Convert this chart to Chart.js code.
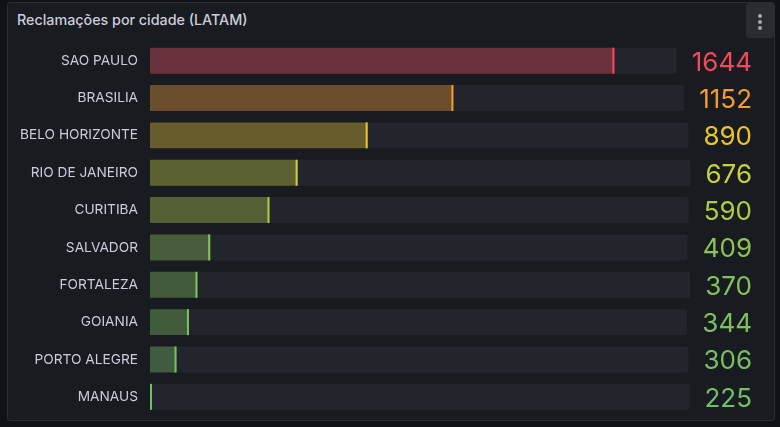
<!DOCTYPE html>
<html>
<head>
<meta charset="utf-8">
<script src="https://cdn.jsdelivr.net/npm/chart.js@4/dist/chart.umd.min.js"></script>
<style>
  html, body { margin: 0; padding: 0; background: #111217; width: 780px; height: 427px; overflow: hidden; }
  #panel { position: absolute; left: 7px; top: 2px; width: 768px; height: 419px; box-sizing: border-box;
           border: 1px solid #2b2e34; border-radius: 3px; background: #181b1f; }
  #title { position: absolute; left: 17px; top: 11px; font-family: Inter, sans-serif; font-weight: 500;
           font-size: 14.3px; line-height: 18px; color: #ccccdc; white-space: nowrap; }
  #menu { position: absolute; left: 746px; top: 3px; width: 28px; height: 35px; background: #2a2c31; border-radius: 3px; }
  #menu span { position: absolute; left: 12px; width: 4px; height: 4px; border-radius: 2px; background: #a3a6ab; }
  #c { position: absolute; left: 0; top: 0; }
</style>
</head>
<body>
<div id="panel"></div>
<div id="title">Reclamações por cidade (LATAM)</div>
<div id="menu"><span style="top:11px"></span><span style="top:17px"></span><span style="top:23px"></span></div>
<canvas id="c" width="780" height="427"></canvas>
<script>
const cities = ["SAO PAULO", "BRASILIA", "BELO HORIZONTE", "RIO DE JANEIRO", "CURITIBA",
                "SALVADOR", "FORTALEZA", "GOIANIA", "PORTO ALEGRE", "MANAUS"];
const values = [1644, 1152, 890, 676, 590, 409, 370, 344, 306, 225];
const valueColors = ["#F2495C", "#F39B33", "#E8C52E", "#C8D13A", "#AECB45",
                     "#8CC356", "#82C15B", "#7CC05F", "#77BF64", "#73BF69"];
const scaleMin = 225;
const scaleMax = 1875;

function withAlpha(hex, a) {
  const n = parseInt(hex.slice(1), 16);
  return `rgba(${(n >> 16) & 255},${(n >> 8) & 255},${n & 255},${a})`;
}

const VALUE_RIGHT = 752;
const VALUE_FONT = "26px Inter, sans-serif";

const gaugePlugin = {
  id: 'gauge',
  beforeDatasetsDraw(chart) {
    const ctx = chart.ctx;
    const meta = chart.getDatasetMeta(0);
    const left = chart.chartArea.left;
    ctx.save();
    ctx.font = VALUE_FONT;
    meta.data.forEach((el, i) => {
      const tw = ctx.measureText(String(values[i])).width;
      const end = VALUE_RIGHT - tw - 15;
      ctx.fillStyle = '#22252b';
      ctx.beginPath();
      ctx.roundRect(left, el.y - el.height / 2, end - left, el.height, 2);
      ctx.fill();
    });
    ctx.restore();
  },
  afterDatasetsDraw(chart) {
    const ctx = chart.ctx;
    const meta = chart.getDatasetMeta(0);
    const left = chart.chartArea.left;
    ctx.save();
    ctx.font = VALUE_FONT;
    ctx.textAlign = 'right';
    ctx.textBaseline = 'alphabetic';
    meta.data.forEach((el, i) => {
      const lx = Math.max(el.x, left + 2);
      ctx.fillStyle = valueColors[i];
      ctx.fillRect(lx - 2, el.y - el.height / 2, 2, el.height);
      ctx.fillText(String(values[i]), VALUE_RIGHT, el.y + 10);
    });
    ctx.restore();
  }
};

new Chart(document.getElementById('c'), {
  type: 'bar',
  data: {
    labels: cities,
    datasets: [{
      data: values,
      backgroundColor: valueColors.map(c => withAlpha(c, 0.35)),
      borderWidth: 0,
      borderSkipped: false,
      borderRadius: { topLeft: 2, bottomLeft: 2, topRight: 0, bottomRight: 0 },
      barPercentage: 1,
      categoryPercentage: 0.695
    }]
  },
  options: {
    indexAxis: 'y',
    responsive: false,
    animation: false,
    devicePixelRatio: 1,
    layout: { padding: { top: 42, right: 90, bottom: 11.5, left: 0 } },
    plugins: { legend: { display: false }, tooltip: { enabled: false } },
    scales: {
      x: { type: 'linear', min: scaleMin, max: scaleMax, display: false },
      y: {
        grid: { display: false, drawTicks: false },
        border: { display: false },
        ticks: { color: '#ccccdc', padding: 12, font: { family: 'Inter, sans-serif', size: 13.7 } },
        afterFit(scale) { scale.width = 150; scale.paddingTop = 0; scale.paddingBottom = 0; }
      }
    }
  },
  plugins: [gaugePlugin]
});
</script>
</body>
</html>
